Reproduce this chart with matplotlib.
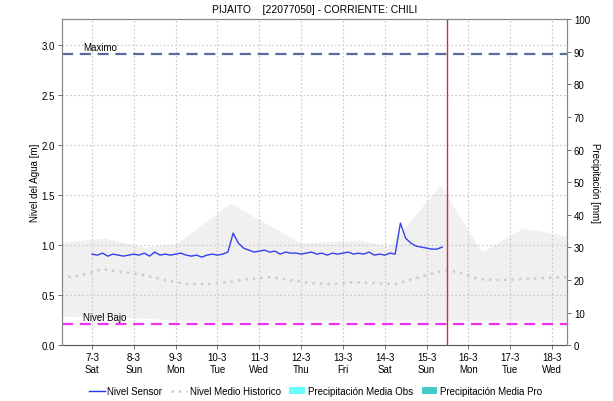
import numpy as np
import matplotlib
matplotlib.use("Agg")
import matplotlib.pyplot as plt
from matplotlib.lines import Line2D
from matplotlib.patches import Patch

plt.rcParams['font.family'] = ['Liberation Sans', 'DejaVu Sans']

# x = days since 7-3 00:00
day_labels = ["7-3\nSat", "8-3\nSun", "9-3\nMon", "10-3\nTue", "11-3\nWed", "12-3\nThu",
              "13-3\nFri", "14-3\nSat", "15-3\nSun", "16-3\nMon", "17-3\nTue", "18-3\nWed"]

# sensor level, every 3 hours from 7-3 00:00
sensor = [
    0.91, 0.90, 0.92, 0.89, 0.91, 0.90, 0.89, 0.90,
    0.91, 0.90, 0.92, 0.89, 0.93, 0.90, 0.91, 0.90,
    0.91, 0.92, 0.90, 0.89, 0.90, 0.88, 0.90, 0.91,
    0.90, 0.91, 0.93, 1.12, 1.02, 0.97, 0.95, 0.93,
    0.94, 0.95, 0.93, 0.94, 0.91, 0.93, 0.92, 0.92,
    0.91, 0.92, 0.93, 0.91, 0.92, 0.90, 0.92, 0.91,
    0.92, 0.93, 0.91, 0.92, 0.91, 0.93, 0.90, 0.91,
    0.90, 0.92, 0.91, 1.22, 1.07, 1.02, 0.99, 0.98,
    0.97, 0.96, 0.96, 0.98,
]
sensor_t = np.arange(len(sensor)) * 0.125

hist_t = [-0.75, -0.25, 0.25, 0.75, 1.25, 1.75, 2.25, 2.75, 3.25, 3.75, 4.25, 4.75,
          5.25, 5.75, 6.25, 6.75, 7.25, 7.75, 8.25, 8.5, 8.75, 9.25, 9.75, 10.25,
          10.75, 11.25, 11.5]
hist = [0.67, 0.70, 0.76, 0.73, 0.70, 0.65, 0.61, 0.61, 0.63, 0.66, 0.68, 0.65,
        0.62, 0.61, 0.63, 0.62, 0.61, 0.67, 0.73, 0.75, 0.73, 0.66, 0.65, 0.66,
        0.67, 0.68, 0.67]

band_t = [-0.75, 0.3, 1.25, 2.0, 3.3, 5.0, 6.4, 7.1, 8.33, 9.32, 10.3, 11.4]
band_hi = [1.03, 1.07, 0.98, 1.01, 1.42, 1.02, 1.05, 0.99, 1.60, 0.93, 1.17, 1.09]
band_lo = [0.29, 0.28, 0.27, 0.25, 0.24, 0.25, 0.25, 0.25, 0.25, 0.25, 0.25, 0.25]

nivel_max = 2.91
nivel_bajo = 0.21
now_t = 8.49

fig = plt.figure(figsize=(6.13, 4.02), dpi=100)
ax = fig.add_axes([0.101, 0.139, 0.824, 0.811])

ax.fill_between(band_t, band_lo, band_hi, color='#f0f0f0', lw=0, zorder=1)
ax.plot(hist_t, hist, color='#cccccc', lw=1.8, ls=(0, (1, 2)), zorder=2)
ax.plot(sensor_t, sensor, color='#3340ee', lw=1, zorder=4)

ax.axhline(nivel_max, color='#5a6a9a', lw=1.6, ls=(0, (5, 3)), zorder=3)
ax.axhline(nivel_bajo, color='#ee33ee', lw=1.6, ls=(0, (5, 3)), zorder=3)
ax.text(-0.22, nivel_max + 0.02, "Maximo", fontsize=7, va='bottom', ha='left')
ax.text(-0.22, nivel_bajo + 0.02, "Nivel Bajo", fontsize=7, va='bottom', ha='left')
ax.axvline(now_t, color='#cc3333', lw=1, zorder=5)

ax.set_xlim(-0.72, 11.36)
ax.set_ylim(0, 3.26)
ax.set_xticks(range(len(day_labels)))
ax.set_xticklabels(day_labels, fontsize=7)
ax.set_yticks(np.arange(0, 3.01, 0.5))
ax.set_yticklabels(["%.1f" % v for v in np.arange(0, 3.01, 0.5)], fontsize=7)
ax.grid(True, color='#c8c8c8', ls=(0, (1.5, 2)), lw=0.8)
ax.tick_params(length=3, width=0.6, color='#555555', pad=2)
ax.set_ylabel("Nivel del Agua [m]", fontsize=7, labelpad=1)
for s in ax.spines.values():
    s.set_color('#888888')
    s.set_linewidth(0.8)
ax.spines['bottom'].set_color('#555555')
ax.spines['bottom'].set_linestyle((0, (1, 1)))

ax2 = ax.twinx()
ax2.set_ylim(0, 100)
ax2.set_yticks(range(0, 101, 10))
ax2.tick_params(labelsize=7, length=3, width=0.6, color='#555555', pad=2)
ax2.set_ylabel("Precipitación [mm]", fontsize=7, rotation=270, labelpad=7)
for s in ax2.spines.values():
    s.set_color('#888888')
    s.set_linewidth(0.8)
ax2.spines['bottom'].set_visible(False)

ax.set_title("PIJAITO    [22077050] - CORRIENTE: CHILI", fontsize=7.5, pad=5)

handles = [
    Line2D([], [], color='#2233ee', lw=1),
    Line2D([], [], color='#cccccc', lw=1.8, ls=(0, (1, 2))),
    Patch(facecolor='#66ffff', edgecolor='none'),
    Patch(facecolor='#44cccc', edgecolor='none'),
]
labels = ["Nivel Sensor", "Nivel Medio Historico", "Precipitación Media Obs", "Precipitación Media Pro"]
fig.legend(handles, labels, loc='lower center', bbox_to_anchor=(0.515, -0.01), ncol=4,
           frameon=False, fontsize=7, handlelength=1.6, handletextpad=0.3, columnspacing=0.9)

fig.savefig("out.png", dpi=100)
